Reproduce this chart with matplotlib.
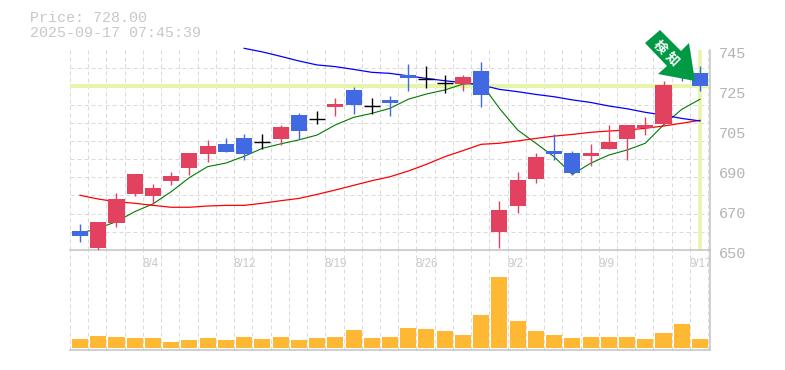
import matplotlib
matplotlib.use("Agg")
import matplotlib.pyplot as plt
from matplotlib.patches import Polygon
from matplotlib.transforms import ScaledTranslation

W, H = 785, 370

# Daily candles (open, close, high, low)
opens = [659.0, 651.0, 662.8, 676.6, 675.7, 682.8, 689.0, 695.6, 700.3, 703.2, 701.1, 702.7, 714.1, 712.1,
         717.9, 726.0, 718.2, 721.2, 733.1, 731.2, 729.3, 728.9, 735.0, 658.5, 670.9, 683.7, 697.0, 696.1,
         694.6, 698.0, 702.7, 707.9, 709.9, 737.0, 734.1]
closes = [656.7, 663.3, 674.2, 686.1, 679.5, 685.2, 696.1, 699.4, 696.6, 695.6, 701.1, 708.4, 706.5, 712.1,
          719.4, 718.9, 718.2, 719.8, 731.7, 731.2, 729.3, 732.2, 723.6, 669.0, 683.2, 694.2, 695.6, 686.6,
          696.1, 701.3, 709.4, 709.4, 728.4, 733.0, 727.9]
highs = [662.4, 663.3, 677.1, 686.1, 681.4, 687.0, 696.1, 702.3, 703.2, 705.1, 705.1, 709.4, 715.1, 716.0,
         722.2, 727.4, 722.2, 723.1, 738.4, 737.4, 733.1, 733.1, 739.3, 673.3, 687.0, 696.1, 705.1, 697.0,
         700.4, 709.4, 709.4, 713.2, 730.3, 739.0, 737.4]
lows = [654.0, 649.7, 661.1, 675.7, 671.9, 680.9, 685.6, 691.8, 696.6, 692.7, 697.8, 699.9, 702.7, 709.8,
        713.6, 714.6, 714.6, 713.6, 725.5, 726.9, 724.6, 725.5, 717.9, 651.0, 667.6, 681.8, 692.8, 685.6,
        689.9, 698.0, 692.8, 704.6, 709.9, 730.3, 725.5]

# Moving averages
ma_short = [657.9, 660.3, 663.5, 668.2, 671.9, 677.7, 684.4, 689.6, 691.3, 694.5, 698.3, 700.4, 702.3, 704.6,
            709.4, 713.0, 714.9, 717.3, 721.6, 724.1, 726.0, 728.8, 729.2, 717.3, 707.0, 700.7, 694.3, 685.9,
            691.2, 695.1, 697.5, 700.7, 709.4, 716.8, 721.6]
ma_mid = [676.0, 674.2, 672.9, 672.2, 671.2, 670.3, 670.3, 670.9, 671.2, 671.2, 672.2, 673.4, 674.5, 676.4,
          678.5, 680.7, 682.9, 684.8, 687.5, 690.7, 694.3, 697.2, 700.2, 700.7, 701.8, 703.0, 704.1, 704.9,
          705.9, 706.5, 707.0, 707.8, 708.9, 710.2, 711.6]
ma_long = [745.8, 744.1, 742.0, 739.8, 737.9, 737.1, 735.8, 734.4, 733.9, 732.7, 731.5, 730.4, 729.5, 728.4,
           726.3, 725.2, 723.9, 722.8, 721.3, 720.1, 718.4, 717.1, 715.4, 714.1, 712.5, 711.3]
ma_long_start = 9

volume = [27, 36, 33, 30, 30, 18, 24, 30, 24, 33, 27, 33, 24, 30, 33, 54, 30, 33, 60, 57, 51, 39, 99, 213,
          81, 51, 39, 30, 33, 33, 33, 27, 45, 72, 27]

price = 728.0
date_ticks = [4, 9, 14, 19, 24, 29, 34]
date_labels = ["8/4", "8/12", "8/19", "8/26", "9/2", "9/9", "9/17"]
price_ticks = [745, 726, 707, 688, 669, 650]
price_labels = ["745", "725", "705", "690", "670", "650"]

RED = "#e2425f"
BLUE = "#4169e1"
GRID = "#dadada"
EDGE = "#c2c2c2"
HILITE = "#e6f5a9"
TEXT = "#c8c8c8"
px = 0.72  # one pixel in points at dpi 100
dash = (0, (4, 3))

fig = plt.figure(figsize=(W / 100, H / 100), dpi=100)
ax = fig.add_axes([70 / W, (H - 250) / H, 640 / W, 200 / H])
vol = fig.add_axes([70 / W, (H - 350) / H, 640 / W, 100 / H])
vol.patch.set_alpha(0)

xs = list(range(len(opens)))
grid_x = [i - 0.55 for i in range(36)]
for a in (ax, vol):
    a.set_xlim(-0.55, 34.55)
    a.set_xticks(grid_x, minor=True)
    a.grid(True, which="minor", axis="x", color=GRID, lw=px, ls=dash)
    a.set_axisbelow(True)
    for s in ("top", "left"):
        a.spines[s].set_visible(False)
    a.spines["right"].set_color(EDGE)
    a.spines["bottom"].set_color(EDGE)
    a.spines["right"].set_linewidth(1.1)
    a.spines["bottom"].set_linewidth(1.1)
    a.tick_params(which="both", length=0)

# Price panel
ax.set_ylim(650, 745)
ax.set_yticks([650 + 95 * i / 11 for i in range(12)], minor=True)
ax.grid(True, which="minor", axis="y", color=GRID, lw=px, ls=dash)
ax.axhline(price, color=HILITE, lw=4 * px, zorder=1.5)
ax.axvline(xs[-1], color=HILITE, lw=3.5 * px, zorder=1.5)

ax.plot(xs, ma_short, color="#007a00", lw=0.8, zorder=3)
ax.plot(xs, ma_mid, color="#ff0000", lw=0.9, zorder=3)
ax.plot(xs[ma_long_start:], ma_long, color="#0000ff", lw=0.9, zorder=3, clip_on=False)

for i in xs:
    o, c = opens[i], closes[i]
    col = "black" if o == c else (RED if c > o else BLUE)
    ax.vlines(i, lows[i], highs[i], color=col, lw=1.4 * px, zorder=4)
    if o == c:
        ax.hlines(o, i - 0.44, i + 0.44, color=col, lw=1.4 * px, zorder=4)
    else:
        ax.bar(i, abs(c - o), bottom=min(o, c), width=0.88, color=col, lw=0, zorder=4)

ax.yaxis.tick_right()
ax.set_yticks(price_ticks, price_labels, family="Liberation Mono", fontsize=11, color="#b4b4b4")
ax.tick_params(axis="y", which="major", pad=6.5)
for t in ax.get_yticklabels():
    t.set_transform(t.get_transform() + ScaledTranslation(0, -0.03, fig.dpi_scale_trans))

ax.set_xticks(date_ticks, date_labels, family="Liberation Sans", fontsize=8.3, color=TEXT, ha="left")
ax.tick_params(axis="x", which="major", pad=5.5)
for t in ax.get_xticklabels():
    t.set_transform(t.get_transform() + ScaledTranslation(-0.105, 0, fig.dpi_scale_trans))

# Volume panel
vol.bar(xs, volume, width=0.88, color="#ffb833", lw=0, zorder=3)
vol.set_ylim(-6, 294)
vol.set_xticks([])
vol.set_yticks([])

# Header
fig.text(30 / W, 1 - 18 / H, "Price: %.2f" % price, family="Liberation Mono", fontsize=10.8, color="#c8c8c8", va="center")
fig.text(30 / W, 1 - 33 / H, "2025-09-17 07:45:39", family="Liberation Mono", fontsize=10.8, color="#c8c8c8", va="center")

# Green marker arrow
arrow_px = [(660, 30), (645, 43), (667, 66), (658, 74), (695, 81), (689, 43), (681, 51)]
fig.add_artist(Polygon([(x / W, 1 - y / H) for x, y in arrow_px], closed=True, color="#009944", lw=0,
                       transform=fig.transFigure, zorder=10))
for ch, x, y in [("検", 659.5, 47), ("知", 672, 59)]:
    fig.text(x / W, 1 - y / H, ch, family=["Noto Sans CJK JP", "DejaVu Sans"], fontsize=9.5, fontweight="bold",
             color="white", rotation=-45, ha="center", va="center", zorder=11)

fig.savefig("out.png", dpi=100)
